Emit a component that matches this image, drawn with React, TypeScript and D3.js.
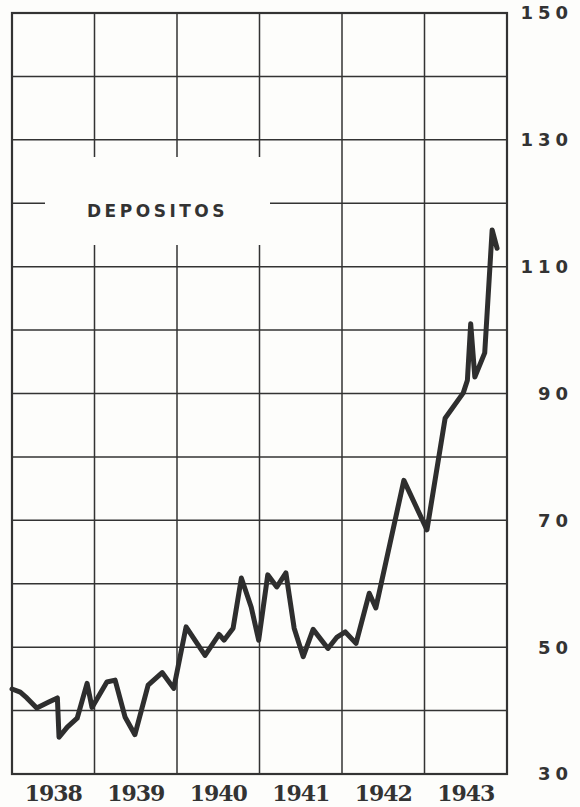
import * as d3 from 'd3';

// x positions are fractional years, values in the chart's units
const years = [
  1938.0, 1938.1, 1938.18, 1938.3, 1938.44, 1938.55, 1938.57, 1938.67, 1938.79, 1938.91, 1938.97,
  1939.15, 1939.25, 1939.37, 1939.49, 1939.65, 1939.82, 1939.96,
  1940.11, 1940.34, 1940.51, 1940.57, 1940.68, 1940.78, 1940.9, 1940.99,
  1941.1, 1941.21, 1941.32, 1941.42, 1941.53, 1941.65, 1941.83, 1941.94,
  1942.04, 1942.17, 1942.33, 1942.41, 1942.75,
  1943.03, 1943.25, 1943.47, 1943.52, 1943.56, 1943.61, 1943.73, 1943.82, 1943.88,
];
const depositos = [
  43.4, 42.9, 42.0, 40.4, 41.3, 42.0, 35.8, 37.4, 38.8, 44.3, 40.5,
  44.5, 44.8, 39.0, 36.2, 44.0, 46.0, 43.5,
  53.2, 48.7, 52.0, 51.1, 53.0, 60.9, 56.3, 51.1,
  61.4, 59.5, 61.7, 53.0, 48.5, 52.8, 49.8, 51.6,
  52.4, 50.6, 58.5, 56.2, 76.3,
  68.5, 86.1, 90.1, 92.1, 101.0, 92.6, 96.4, 115.8, 112.9,
];
const yearLabels = ['1938', '1939', '1940', '1941', '1942', '1943'];
const yTickLabels = [30, 50, 70, 90, 110, 130, 150];
const title = 'DEPOSITOS';

const W = 580;
const H = 807;
const ink = '#333';

export default function App() {
  const x = d3.scaleLinear().domain([1938, 1944]).range([12, 507]);
  const y = d3.scaleLinear().domain([30, 150]).range([774, 13]);

  const hLines = d3.range(30, 151, 10);
  const vLines = d3.range(1938, 1945, 1);

  const line = d3.line<number>()
    .x((_, i) => x(years[i]))
    .y((d) => y(d))
    .curve(d3.curveLinear);

  // white box behind the title, cutting the grid
  const box = { x0: 45, x1: 270, y0: 157, y1: 245 };

  return (
    <svg width={W} height={H} style={{ position: 'absolute', left: 0, top: 0, background: '#fdfdfb' }}>
      <g stroke={ink} strokeWidth={1.5}>
        {hLines.slice(1, -1).map((v) => (
          <line key={'h' + v} x1={x(1938)} x2={x(1944)} y1={y(v)} y2={y(v)} />
        ))}
        {vLines.slice(1, -1).map((v) => (
          <line key={'v' + v} x1={x(v)} x2={x(v)} y1={y(150)} y2={y(30)} />
        ))}
      </g>
      <rect x={box.x0} y={box.y0} width={box.x1 - box.x0} height={box.y1 - box.y0} fill="#fdfdfb" />
      <rect
        x={x(1938)}
        y={y(150)}
        width={x(1944) - x(1938)}
        height={y(30) - y(150)}
        fill="none"
        stroke={ink}
        strokeWidth={2.2}
      />
      <text
        x={(box.x0 + box.x1) / 2}
        y={217}
        textAnchor="middle"
        fontFamily="DejaVu Sans"
        fontWeight="bold"
        fontSize={17}
        letterSpacing={3.5}
        fill={ink}
      >
        {title}
      </text>

      <path
        d={line(depositos) ?? ''}
        fill="none"
        stroke="#2e2e2e"
        strokeWidth={5}
        strokeLinejoin="round"
        strokeLinecap="round"
      />

      {yTickLabels.map((v) => (
        <text
          key={v}
          x={573}
          y={y(v)}
          dy="0.36em"
          textAnchor="end"
          fontFamily="DejaVu Sans"
          fontWeight="bold"
          fontSize={18}
          letterSpacing={5}
          fill={ink}
        >
          {v}
        </text>
      ))}

      {yearLabels.map((lab, i) => (
        <text
          key={lab}
          x={x(1938 + i + 0.5)}
          y={801}
          textAnchor="middle"
          fontFamily="DejaVu Serif"
          fontWeight="bold"
          fontSize={22}
          letterSpacing={-1}
          fill={ink}
        >
          {lab}
        </text>
      ))}
    </svg>
  );
}
